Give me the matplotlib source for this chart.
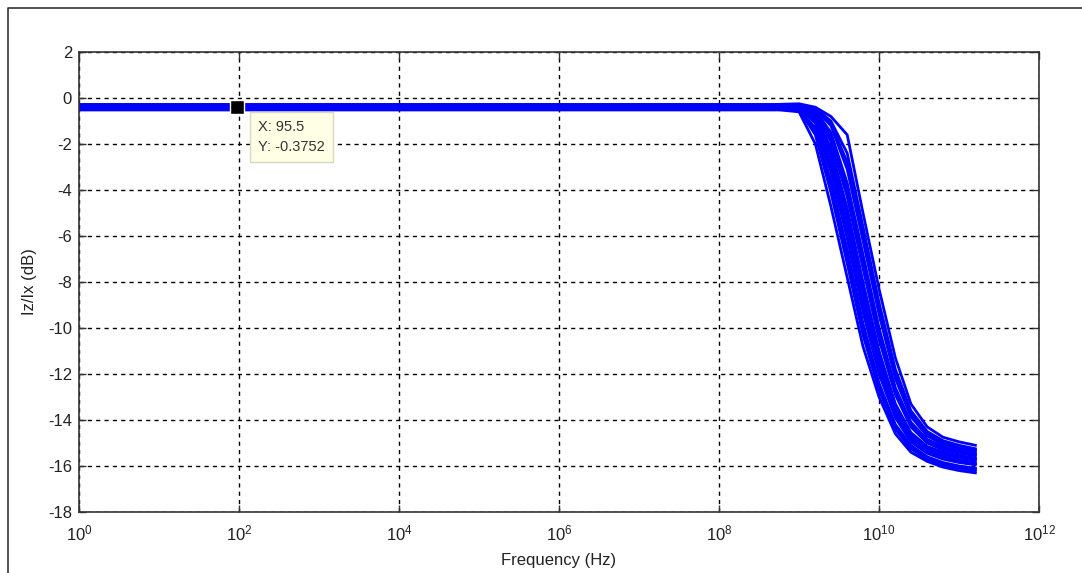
"""Monte Carlo frequency response of Iz/Ix, MATLAB-style figure with a data tip."""

import matplotlib

matplotlib.use('Agg')
import matplotlib.pyplot as plt
from matplotlib.lines import Line2D

plt.rcParams['font.family'] = ['Liberation Sans', 'DejaVu Sans']
plt.rcParams['mathtext.fontset'] = 'custom'
plt.rcParams['mathtext.rm'] = 'Liberation Sans'
plt.rcParams['mathtext.it'] = 'Liberation Sans'
plt.rcParams['axes.unicode_minus'] = False

# frequency samples (Hz)
freq_hz = [1.0, 5.0e8, 1.0e9, 1.6e9, 2.5e9, 4.0e9, 6.3e9, 1.0e10,
           1.6e10, 2.5e10, 4.0e10, 6.3e10, 1.0e11, 1.6e11]

# Iz/Ix (dB), one list per Monte Carlo run
runs_db = [
    [-0.50, -0.50, -0.60, -2.00, -4.70, -7.80, -10.8, -13.0, -14.6, -15.40, -15.80, -16.05, -16.20, -16.30],
    [-0.40, -0.40, -0.50, -1.60, -4.10, -7.20, -10.3, -12.7, -14.4, -15.25, -15.70, -15.95, -16.10, -16.20],
    [-0.46, -0.46, -0.55, -1.45, -3.85, -6.90, -10.1, -12.6, -14.3, -15.20, -15.65, -15.90, -16.05, -16.15],
    [-0.45, -0.45, -0.50, -1.30, -3.60, -6.60, -9.80, -12.4, -14.2, -15.10, -15.60, -15.85, -16.00, -16.10],
    [-0.32, -0.32, -0.40, -1.10, -3.20, -6.10, -9.30, -12.0, -13.9, -14.95, -15.45, -15.70, -15.85, -15.95],
    [-0.42, -0.42, -0.45, -1.00, -3.00, -5.85, -9.05, -11.8, -13.8, -14.90, -15.40, -15.65, -15.80, -15.90],
    [-0.48, -0.48, -0.48, -0.90, -2.80, -5.60, -8.80, -11.6, -13.7, -14.80, -15.35, -15.60, -15.75, -15.85],
    [-0.30, -0.30, -0.35, -0.80, -2.50, -5.20, -8.40, -11.3, -13.5, -14.70, -15.25, -15.50, -15.65, -15.75],
    [-0.38, -0.38, -0.40, -0.75, -2.35, -5.00, -8.20, -11.1, -13.4, -14.60, -15.20, -15.45, -15.60, -15.70],
    [-0.40, -0.40, -0.40, -0.70, -2.20, -4.80, -8.00, -11.0, -13.3, -14.55, -15.15, -15.40, -15.55, -15.65],
    [-0.52, -0.52, -0.45, -0.65, -1.90, -4.30, -7.40, -10.5, -12.9, -14.30, -15.00, -15.30, -15.45, -15.55],
    [-0.34, -0.34, -0.35, -0.60, -1.70, -4.00, -7.10, -10.2, -12.7, -14.20, -14.90, -15.20, -15.40, -15.50],
    [-0.35, -0.35, -0.30, -0.55, -1.50, -3.70, -6.80, -10.0, -12.6, -14.10, -14.85, -15.15, -15.35, -15.45],
    [-0.44, -0.44, -0.40, -0.50, -1.20, -3.10, -6.20, -9.40, -12.2, -13.85, -14.70, -15.05, -15.25, -15.35],
    [-0.31, -0.31, -0.32, -0.48, -1.10, -2.80, -5.90, -9.10, -12.0, -13.75, -14.60, -15.00, -15.20, -15.30],
    [-0.37, -0.37, -0.30, -0.45, -1.00, -2.40, -5.60, -8.90, -11.8, -13.60, -14.50, -14.90, -15.10, -15.25],
    [-0.28, -0.28, -0.25, -0.40, -0.80, -1.60, -5.00, -8.30, -11.3, -13.30, -14.30, -14.75, -14.95, -15.10],
]

# data tip
tip_x = 95.5
tip_y = -0.3752

x_ticks = [1e0, 1e2, 1e4, 1e6, 1e8, 1e10, 1e12]
y_ticks = list(range(-18, 3, 2))

fig = plt.figure(figsize=(10.82, 5.73), dpi=100)
ax = fig.add_axes([0.073, 0.1065, 0.8873, 0.8027])

for run in runs_db:
    ax.semilogx(freq_hz, run, color='#0000ff', linewidth=2.0)

ax.set_xlim(1e0, 1e12)
ax.set_ylim(-18, 2)
ax.set_xticks(x_ticks)
ax.set_xticks([], minor=True)
ax.set_yticks(y_ticks)
ax.grid(True, which='major', color='black', linestyle=(0, (3, 3)), linewidth=1.0)
ax.tick_params(direction='in', length=5, width=1.0, labelsize=12, pad=5,
               top=True, right=True, color='#333333', labelcolor='#222222')
ax.tick_params(axis='x', pad=8)
for spine in ax.spines.values():
    spine.set_color('#333333')
    spine.set_linewidth(1.2)

ax.set_xlabel('Frequency (Hz)', fontsize=12, labelpad=7, color='#222222')
ax.set_ylabel('Iz/Ix (dB)', fontsize=12, labelpad=8, color='#222222')

ax.plot([tip_x], [tip_y], marker='s', markersize=9.5, color='black',
        markeredgecolor='white', markeredgewidth=1.0, zorder=10)
ax.annotate(f'X: {tip_x:g}\nY: {tip_y:.4f}', xy=(tip_x, tip_y),
            xytext=(21, -13), textcoords='offset pixels',
            ha='left', va='top', fontsize=10.5, color='#333333', linespacing=1.55,
            bbox=dict(boxstyle='square,pad=0.55', facecolor='#ffffe6',
                      edgecolor='#d8d8c0', linewidth=1.0),
            zorder=11)

# outer frame of the captured window
fig.add_artist(Line2D([8 / 1082, 8 / 1082, 1.0], [0.0, 1 - 8 / 573, 1 - 8 / 573],
                      transform=fig.transFigure, color='#333333', linewidth=1.2))

fig.savefig('out.png', dpi=100)
